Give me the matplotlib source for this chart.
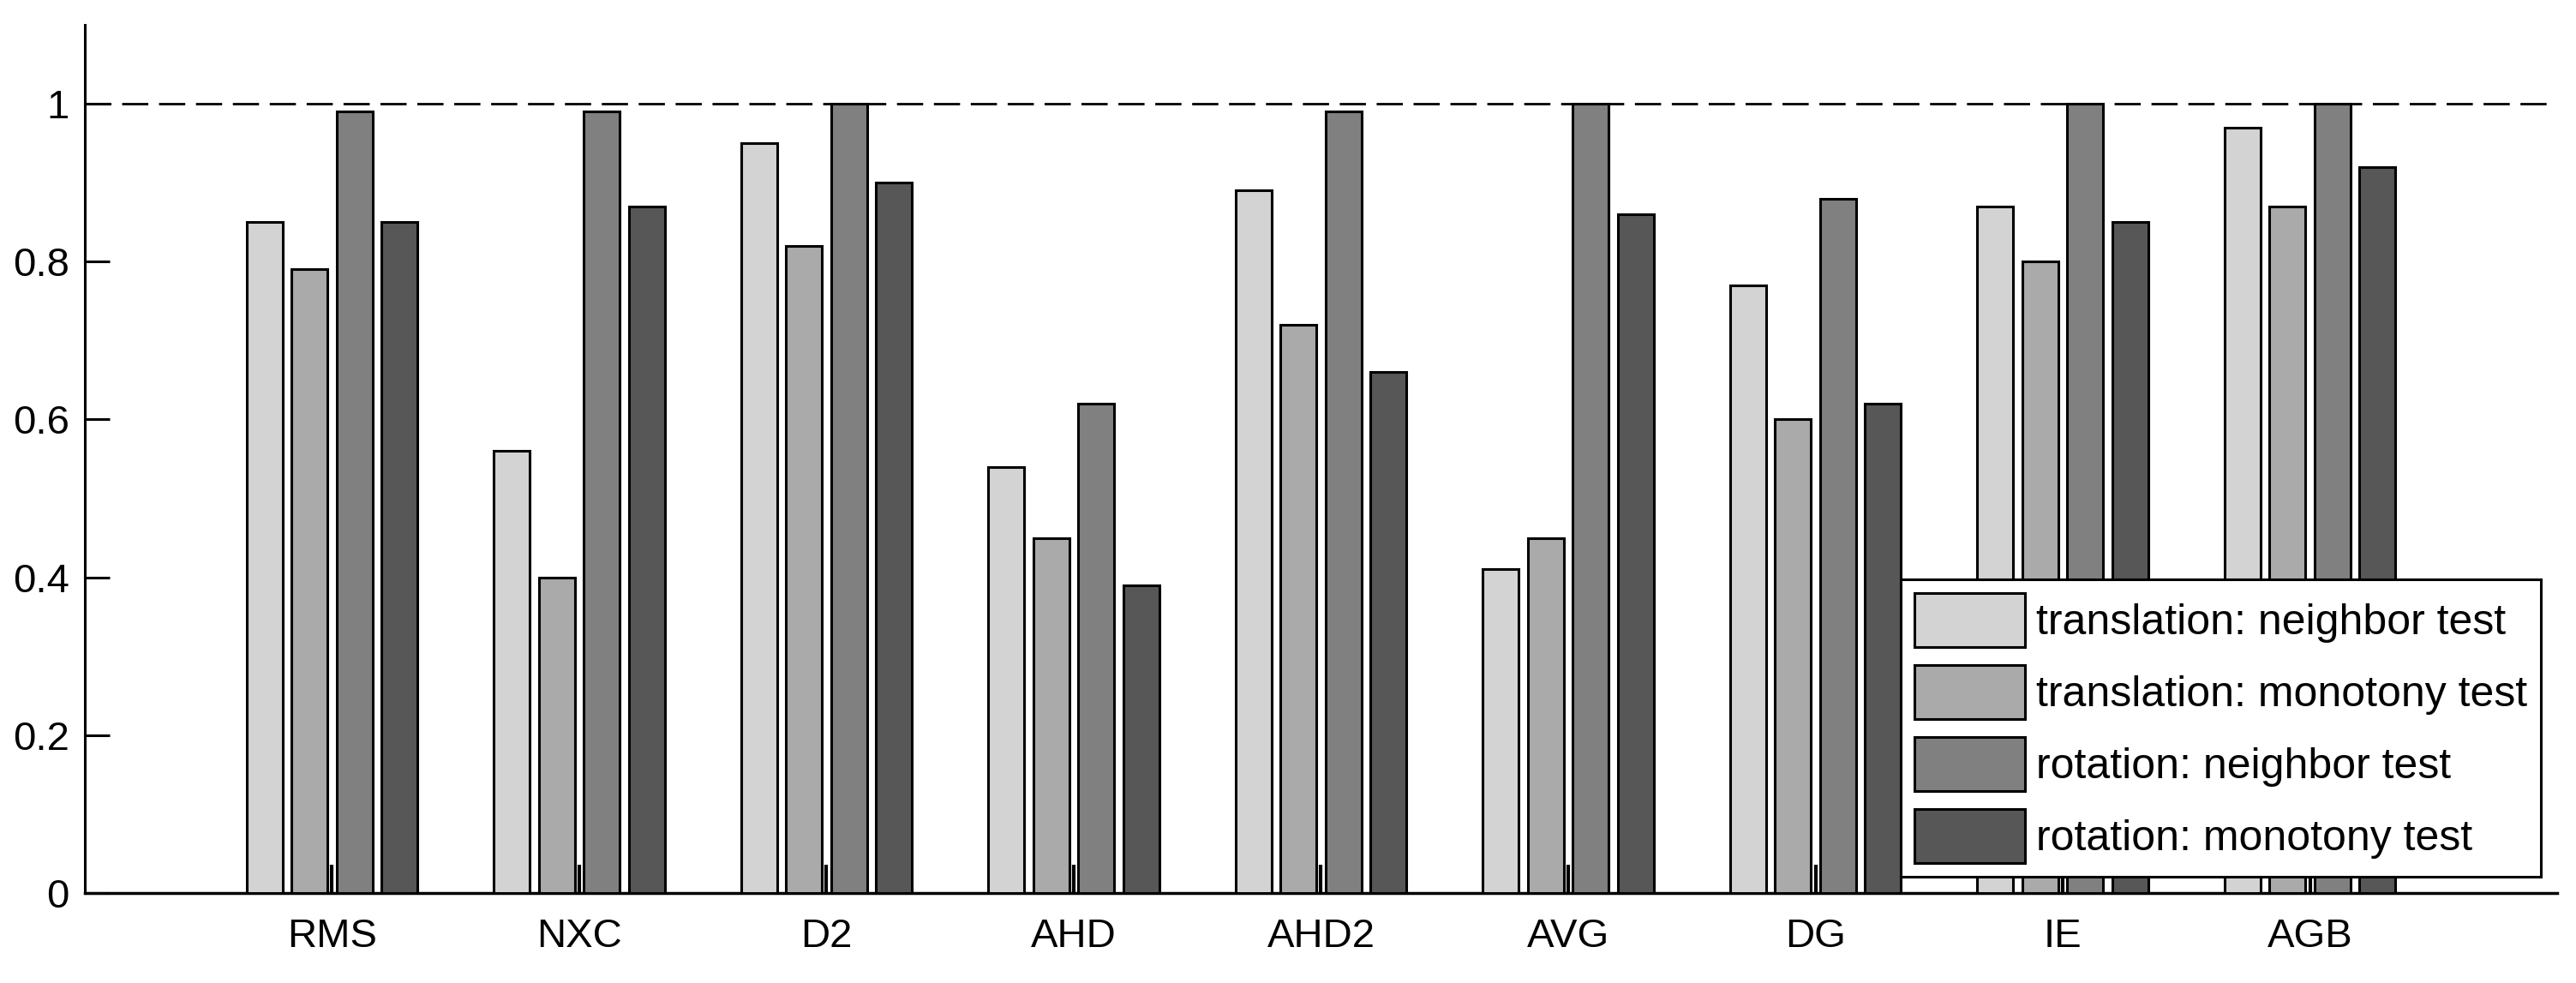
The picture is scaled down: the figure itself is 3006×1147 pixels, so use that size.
import numpy as np
import matplotlib
matplotlib.use("Agg")
import matplotlib.pyplot as plt

plt.rcParams['font.family'] = ['Liberation Sans', 'DejaVu Sans']

methods = ['RMS', 'NXC', 'D2', 'AHD', 'AHD2', 'AVG', 'DG', 'IE', 'AGB']
series_names = ['translation: neighbor test', 'translation: monotony test',
                'rotation: neighbor test', 'rotation: monotony test']
trans_neighbor = [0.85, 0.56, 0.95, 0.54, 0.89, 0.41, 0.77, 0.87, 0.97]
trans_monotony = [0.79, 0.40, 0.82, 0.45, 0.72, 0.45, 0.60, 0.80, 0.87]
rot_neighbor = [0.99, 0.99, 1.00, 0.62, 0.99, 1.00, 0.88, 1.00, 1.00]
rot_monotony = [0.85, 0.87, 0.90, 0.39, 0.66, 0.86, 0.62, 0.85, 0.92]
yticks = [0, 0.2, 0.4, 0.6, 0.8, 1]
ytick_labels = ['0', '0.2', '0.4', '0.6', '0.8', '1']

colors = ['#d3d3d3', '#aaaaaa', '#808080', '#575757']
data = [trans_neighbor, trans_monotony, rot_neighbor, rot_monotony]
fs = 34

fig = plt.figure(figsize=(30.06, 11.47), dpi=100)
ax = fig.add_axes([0.0329, 0.09155, 0.9598, 0.8832])

x = np.arange(1, len(methods) + 1)
slot = 0.182
for i, vals in enumerate(data):
    ax.bar(x + (i - 1.5) * slot, vals, width=slot * 0.8, color=colors[i],
           edgecolor='black', linewidth=2.2, label=series_names[i], zorder=3)

# reference line at 1
ax.axhline(1, color='black', linestyle=(0, (11, 4.5)), linewidth=2, zorder=2)

ax.set_xlim(0, 10)
ax.set_ylim(0, 1.1)
ax.set_xticks(x)
ax.set_xticklabels(methods)
ax.set_yticks(yticks)
ax.set_yticklabels(ytick_labels)
ax.spines['top'].set_visible(False)
ax.spines['right'].set_visible(False)
ax.spines['left'].set_linewidth(2.2)
ax.spines['bottom'].set_linewidth(2.5)
ax.tick_params(axis='y', direction='in', length=21, width=2.2, pad=13, labelsize=fs)
ax.tick_params(axis='x', direction='in', length=24, width=3, pad=21, labelsize=fs)

leg = ax.legend(loc='lower right', bbox_to_anchor=(0.9864, 0.1081),
                bbox_transform=fig.transFigure, borderaxespad=0,
                fontsize=36, fancybox=False, edgecolor='black', framealpha=1,
                handlelength=2.58, handleheight=1.56, handletextpad=0.25,
                labelspacing=0.42, borderpad=0.32)
leg.get_frame().set_linewidth(2.2)
leg.set_zorder(5)

fig.savefig('out.png', dpi=100)
